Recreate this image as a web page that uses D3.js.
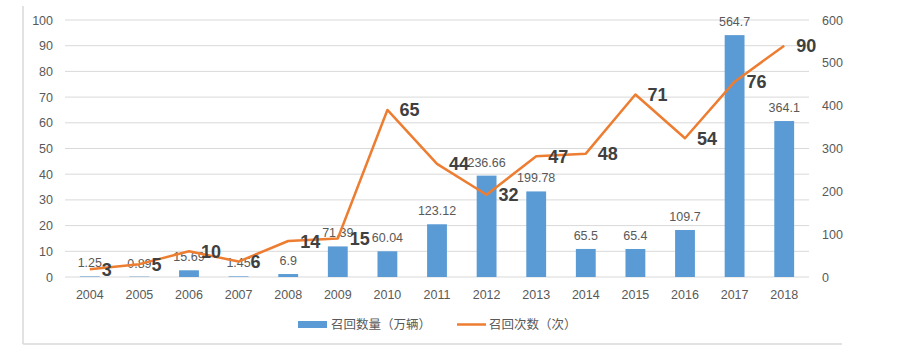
<!DOCTYPE html>
<html><head><meta charset="utf-8">
<script src="https://cdn.jsdelivr.net/npm/d3@7"></script>
<style>
html,body{margin:0;padding:0;background:#fff;}
svg{display:block;}
text{font-family:"Liberation Sans","Noto Sans CJK SC",sans-serif;}
</style></head>
<body>
<svg id="chart" width="923" height="355"></svg>
<script>
const years = ["2004","2005","2006","2007","2008","2009","2010","2011","2012","2013","2014","2015","2016","2017","2018"];
const recallVolume = [1.25,0.89,15.69,1.45,6.9,71.39,60.04,123.12,236.66,199.78,65.5,65.4,109.7,564.7,364.1];
const recallCount = [3,5,10,6,14,15,65,44,32,47,48,71,54,76,90];
const leftTicks = [0,10,20,30,40,50,60,70,80,90,100];
const rightTicks = [0,100,200,300,400,500,600];
const legendLabels = ["召回数量（万辆）","召回次数（次）"];

const svg = d3.select("#chart");
const x = d3.scaleBand().domain(years).range([65, 809]).padding(0);
const yL = d3.scaleLinear().domain([0,100]).range([277, 20]);
const yR = d3.scaleLinear().domain([0,600]).range([277, 20]);

// frame
svg.append("line").attr("x1",23).attr("x2",23).attr("y1",6).attr("y2",344).attr("stroke","#d9d9d9").attr("stroke-width",1.5);
svg.append("line").attr("x1",23).attr("x2",842).attr("y1",344).attr("y2",344).attr("stroke","#d9d9d9").attr("stroke-width",1.5);

// gridlines
svg.append("g").selectAll("line").data(leftTicks).join("line")
  .attr("x1",65).attr("x2",809)
  .attr("y1",d=>yL(d)).attr("y2",d=>yL(d))
  .attr("stroke","#d9d9d9").attr("stroke-width",1);

// left axis
const gL = svg.append("g").attr("transform","translate(53,0)")
  .call(d3.axisLeft(yL).tickValues(leftTicks).tickSize(0).tickPadding(0));
gL.select(".domain").remove();
gL.selectAll("text").attr("fill","#595959").attr("font-size",12.5);

// right axis
const gR = svg.append("g").attr("transform","translate(822,0)")
  .call(d3.axisRight(yR).tickValues(rightTicks).tickSize(0).tickPadding(0));
gR.select(".domain").remove();
gR.selectAll("text").attr("fill","#595959").attr("font-size",12.5);

// bottom axis
const gB = svg.append("g").attr("transform","translate(0,277)")
  .call(d3.axisBottom(x).tickSize(0).tickPadding(13));
gB.select(".domain").remove();
gB.selectAll("text").attr("fill","#595959").attr("font-size",12.5);

// bars
const bw = x.bandwidth()*0.4;
svg.append("g").selectAll("rect").data(years).join("rect")
  .attr("x",d=>x(d)+x.bandwidth()/2-bw/2)
  .attr("width",bw)
  .attr("y",(d,i)=>yR(recallVolume[i]))
  .attr("height",(d,i)=>yR(0)-yR(recallVolume[i]))
  .attr("fill","#5b9bd5");

// bar labels
svg.append("g").selectAll("text").data(years).join("text")
  .attr("x",d=>x(d)+x.bandwidth()/2)
  .attr("y",(d,i)=>yR(recallVolume[i])-9)
  .attr("text-anchor","middle")
  .attr("fill","#595959").attr("font-size",12.5)
  .text((d,i)=>recallVolume[i]);

// line
const line = d3.line().x((d,i)=>x(years[i])+x.bandwidth()/2).y(d=>yL(d));
svg.append("path").datum(recallCount).attr("d",line)
  .attr("fill","none").attr("stroke","#ed7d31").attr("stroke-width",2.5)
  .attr("stroke-linejoin","round");

// line labels
svg.append("g").selectAll("text").data(recallCount).join("text")
  .attr("x",(d,i)=>x(years[i])+x.bandwidth()/2+12)
  .attr("y",d=>yL(d)+6.5)
  .attr("fill","#404040").attr("font-size",18).attr("font-weight","bold")
  .text(d=>d);

// legend
const lg = svg.append("g");
lg.append("rect").attr("x",298).attr("y",321).attr("width",29).attr("height",7).attr("fill","#5b9bd5");
lg.append("text").attr("x",331).attr("y",328.5).attr("fill","#595959").attr("font-size",12.5)
  .attr("font-family","Noto Sans CJK SC").text(legendLabels[0]);
lg.append("line").attr("x1",457).attr("x2",486).attr("y1",324.5).attr("y2",324.5).attr("stroke","#ed7d31").attr("stroke-width",2.5);
lg.append("text").attr("x",489).attr("y",328.5).attr("fill","#595959").attr("font-size",12.5)
  .attr("font-family","Noto Sans CJK SC").text(legendLabels[1]);
</script>
</body></html>
